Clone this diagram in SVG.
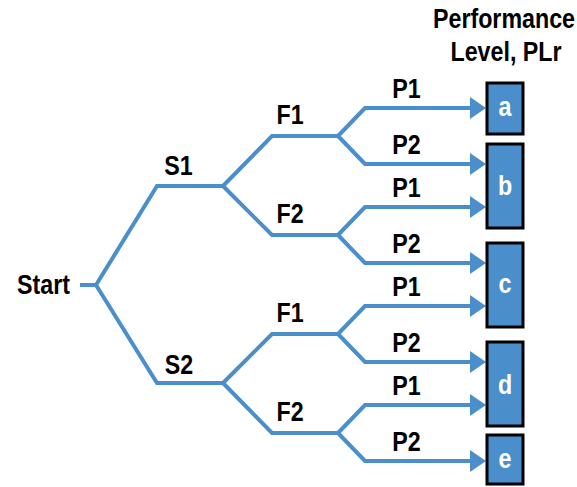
<svg xmlns="http://www.w3.org/2000/svg" width="577" height="487" viewBox="0 0 577 487">
  <style>
    .lbl { font-family: "Liberation Sans", Arial, sans-serif; font-weight: bold; font-size: 28px; fill: #000; text-anchor: middle; }
    .box-lbl { fill: #fff; }
    .edge { fill: none; stroke: #4a8fcc; stroke-width: 4; stroke-linejoin: miter; }
    .tip { fill: #4a8fcc; }
    .box { fill: #4a8fcc; stroke: #000; stroke-width: 3; }
  </style>
  <defs>
    <polygon id="arrow" class="tip" points="0,0 -16,-11 -16,11"/>
  </defs>

  <!-- heading -->
  <g id="heading">
    <text class="lbl" transform="translate(504,28) scale(0.83,1)">Performance</text>
    <text class="lbl" transform="translate(506,61) scale(0.83,1)">Level, PLr</text>
  </g>

  <!-- decision tree branches -->
  <g id="connectors">
    <path class="edge" d="M80,285 H96"/>
    <path class="edge" d="M96,285 L157,186 H223"/>
    <path class="edge" d="M96,285 L157,383 H223"/>
    <path class="edge" d="M223,186 L272,136 H338"/>
    <path class="edge" d="M223,186 L272,235 H338"/>
    <path class="edge" d="M223,383 L272,334 H338"/>
    <path class="edge" d="M223,383 L272,433 H338"/>
    <path class="edge" d="M338,136 L365,108 H471"/>
    <path class="edge" d="M338,136 L365,164 H471"/>
    <path class="edge" d="M338,235 L365,207 H471"/>
    <path class="edge" d="M338,235 L365,263 H471"/>
    <path class="edge" d="M338,334 L365,306 H471"/>
    <path class="edge" d="M338,334 L365,362 H471"/>
    <path class="edge" d="M338,433 L365,405 H471"/>
    <path class="edge" d="M338,433 L365,461 H471"/>
    <use href="#arrow" x="486" y="108"/>
    <use href="#arrow" x="486" y="164"/>
    <use href="#arrow" x="486" y="207"/>
    <use href="#arrow" x="486" y="263"/>
    <use href="#arrow" x="486" y="306"/>
    <use href="#arrow" x="486" y="362"/>
    <use href="#arrow" x="486" y="405"/>
    <use href="#arrow" x="486" y="461"/>
  </g>

  <!-- branch labels -->
  <g id="start"><text class="lbl" transform="translate(43.5,294) scale(0.83,1)">Start</text></g>
  <g id="s1"><text class="lbl" transform="translate(178.5,175) scale(0.83,1)">S1</text></g>
  <g id="s2"><text class="lbl" transform="translate(179,374) scale(0.83,1)">S2</text></g>
  <g id="s1-f1"><text class="lbl" transform="translate(290,124) scale(0.83,1)">F1</text></g>
  <g id="s1-f2"><text class="lbl" transform="translate(290,223) scale(0.83,1)">F2</text></g>
  <g id="s2-f1"><text class="lbl" transform="translate(290,322) scale(0.83,1)">F1</text></g>
  <g id="s2-f2"><text class="lbl" transform="translate(290,421) scale(0.83,1)">F2</text></g>
  <g id="p-labels">
    <text class="lbl" transform="translate(406.5,98) scale(0.83,1)">P1</text>
    <text class="lbl" transform="translate(406.5,154) scale(0.83,1)">P2</text>
    <text class="lbl" transform="translate(406.5,197) scale(0.83,1)">P1</text>
    <text class="lbl" transform="translate(406.5,253) scale(0.83,1)">P2</text>
    <text class="lbl" transform="translate(406.5,296) scale(0.83,1)">P1</text>
    <text class="lbl" transform="translate(406.5,352) scale(0.83,1)">P2</text>
    <text class="lbl" transform="translate(406.5,395) scale(0.83,1)">P1</text>
    <text class="lbl" transform="translate(406.5,451) scale(0.83,1)">P2</text>
  </g>

  <!-- performance level boxes -->
  <g id="level-a">
    <rect class="box" x="487" y="83" width="36" height="51"/>
    <text class="lbl box-lbl" transform="translate(505,116) scale(0.83,1)">a</text>
  </g>
  <g id="level-b">
    <rect class="box" x="487" y="144" width="36" height="84"/>
    <text class="lbl box-lbl" transform="translate(505,195) scale(0.83,1)">b</text>
  </g>
  <g id="level-c">
    <rect class="box" x="487" y="243" width="36" height="84"/>
    <text class="lbl box-lbl" transform="translate(505,293) scale(0.83,1)">c</text>
  </g>
  <g id="level-d">
    <rect class="box" x="487" y="342" width="36" height="84"/>
    <text class="lbl box-lbl" transform="translate(505,394) scale(0.83,1)">d</text>
  </g>
  <g id="level-e">
    <rect class="box" x="487" y="435" width="36" height="49"/>
    <text class="lbl box-lbl" transform="translate(505,468) scale(0.83,1)">e</text>
  </g>
</svg>
